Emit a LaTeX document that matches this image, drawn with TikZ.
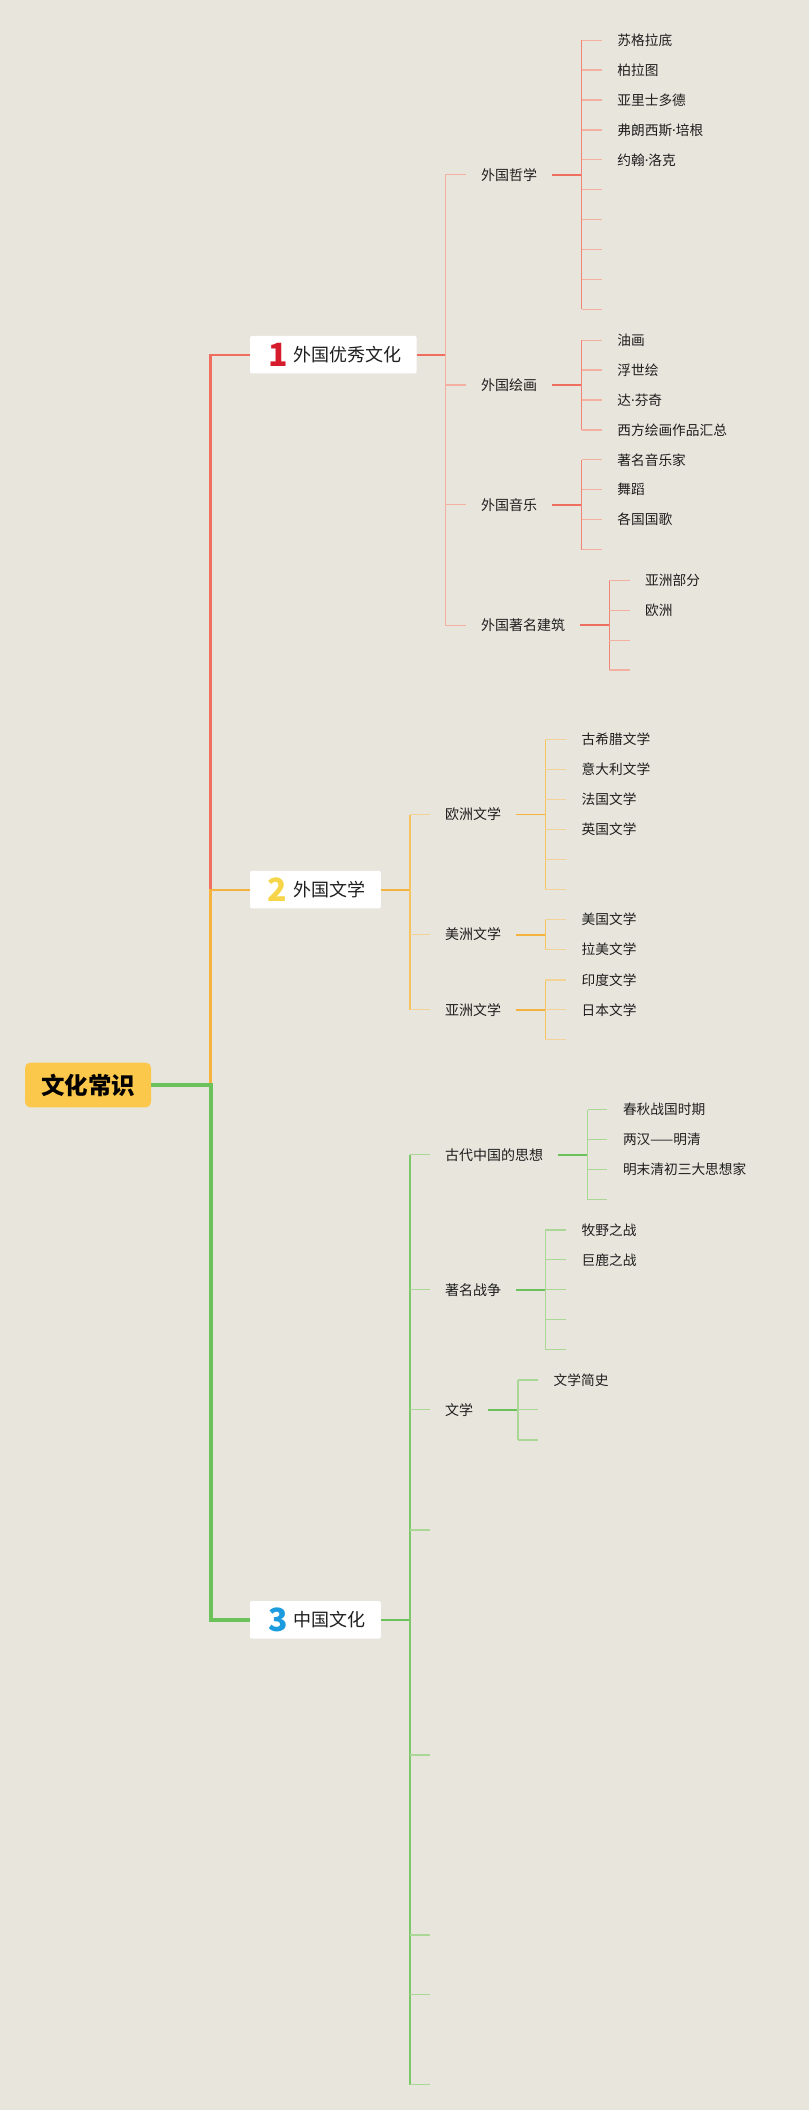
\documentclass[tikz,border=0pt]{standalone}
\usepackage{fontspec}
\setmainfont{Noto Sans CJK SC}
\newfontfamily\latinfont{Noto Sans}
\newcommand{\ndot}{{\latinfont ·}}
\usetikzlibrary{positioning,calc}
\usepackage{xcolor}

\definecolor{paper}{RGB}{232,229,221}
\definecolor{rootyellow}{RGB}{252,200,76}
\definecolor{textdark}{RGB}{30,30,30}
\definecolor{redmain}{RGB}{240,110,95}
\definecolor{redmid}{RGB}{241,132,118}
\definecolor{redlight}{RGB}{243,175,160}
\definecolor{orangemain}{RGB}{245,178,60}
\definecolor{orangemid}{RGB}{245,195,95}
\definecolor{orangelight}{RGB}{242,210,150}
\definecolor{greenmain}{RGB}{108,194,90}
\definecolor{greenmid}{RGB}{125,198,105}
\definecolor{greenlight}{RGB}{170,214,150}
\definecolor{numred}{RGB}{212,28,45}
\definecolor{numyellow}{RGB}{246,214,72}
\definecolor{numblue}{RGB}{28,156,222}

\tikzset{
  rootbox/.style={fill=rootyellow, rounded corners=5pt, minimum width=126pt,
    minimum height=44.6pt, inner sep=0pt, text=black,
    font=\fontsize{23.5}{24}\selectfont\bfseries},
  topicbox/.style={fill=white, rounded corners=1.5pt, minimum height=37.5pt, inner sep=0pt},
  topicnum/.style={inner sep=0pt, font=\fontsize{32}{32}\selectfont\bfseries},
  topictext/.style={anchor=west, inner sep=0pt, text=textdark, font=\fontsize{18}{18}\selectfont},
  subtopic/.style={anchor=west, inner xsep=15pt, inner ysep=0pt, text=textdark,
    font=\fontsize{14}{14}\selectfont},
  leaf/.style={anchor=west, inner xsep=15.5pt, inner ysep=0pt, text=textdark,
    font=\fontsize{13.7}{14}\selectfont}
}

\begin{document}
\begin{tikzpicture}[
x=1pt, y=-1pt,
redtrunk/.style={draw=redmain, line width=2.2pt},
redbranch/.style={draw=redmain, line width=1.7pt},
redstem/.style={draw=redmid, line width=1.6pt},
redtwig/.style={draw=redlight, line width=1.3pt},
orangetrunk/.style={draw=orangemain, line width=2.2pt},
orangebranch/.style={draw=orangemain, line width=1.8pt},
orangestem/.style={draw=orangemid, line width=1.6pt},
orangetwig/.style={draw=orangelight, line width=1.3pt},
greentrunk/.style={draw=greenmain, line width=4pt},
greenbranch/.style={draw=greenmain, line width=1.8pt},
greenstem/.style={draw=greenmid, line width=1.6pt},
greentwig/.style={draw=greenlight, line width=1.3pt}
]

\fill[paper] (0,0) rectangle (809,2110);
\useasboundingbox (0,0) rectangle (809,2110);

% root and main topics
\node[rootbox] (root) at (88,1085) {文化常识};
\coordinate (trunk) at (210.5,1085);

\node[topicbox, minimum width=166.7pt] (top1) at (333.35,354.7) {};
\node[topicnum, text=numred] (num1) at (278.5,354.7) {1};
\node[topictext] (lab1) at (293,354.7) {外国优秀文化};

\node[topicbox, minimum width=130.8pt] (top2) at (315.4,889.7) {};
\node[topicnum, text=numyellow] (num2) at (277.7,889.7) {2};
\node[topictext] (lab2) at (293.6,889.7) {外国文学};

\node[topicbox, minimum width=130.8pt] (top3) at (315.4,1619.9) {};
\node[topicnum, text=numblue] (num3) at (278,1619.9) {3};
\node[topictext] (lab3) at (293.6,1619.9) {中国文化};

% trunk
\draw[redtrunk] (trunk) |- (top1);
\draw[orangetrunk] (trunk) |- (top2);
\draw[greentrunk] (root) -- (trunk) |- (top3);

% 1 外国优秀文化
\coordinate (j1) at (445.3,354.7);
\node[subtopic] (phil) at (466,174.8) {外国哲学};
\node[subtopic] (paint) at (466,385) {外国绘画};
\node[subtopic] (music) at (466,504.7) {外国音乐};
\node[subtopic] (arch) at (466,625.2) {外国著名建筑};
\draw[redbranch] (top1) -- (j1);
\draw[redtwig] (j1 |- phil) -- (j1 |- arch);
\foreach \s in {phil,paint,music,arch} \draw[redtwig] (j1 |- \s) -- (\s);

% 外国哲学
\coordinate (j11) at (581.5,174.8);
\node[leaf] (phil1) at (601.7,40.2) {苏格拉底};
\node[leaf] (phil2) at (601.7,70.1) {柏拉图};
\node[leaf] (phil3) at (601.7,100) {亚里士多德};
\node[leaf] (phil4) at (601.7,129.9) {弗朗西斯\ndot 培根};
\node[leaf] (phil5) at (601.7,159.8) {约翰\ndot 洛克};
\foreach \i/\y in {6/189.7,7/219.6,8/249.6,9/279.5,10/309.4}
  \coordinate (phil\i) at (601.7,\y);
\draw[redbranch] (phil) -- (j11);
\draw[redstem] (j11 |- phil1) -- (j11 |- phil10);
\foreach \i in {1,...,10} \draw[redtwig] (j11 |- phil\i) -- (phil\i);

% 外国绘画
\coordinate (j12) at (581.5,385);
\node[leaf] (paint1) at (601.7,340.2) {油画};
\node[leaf] (paint2) at (601.7,370) {浮世绘};
\node[leaf] (paint3) at (601.7,400) {达\ndot 芬奇};
\node[leaf] (paint4) at (601.7,429.9) {西方绘画作品汇总};
\draw[redbranch] (paint) -- (j12);
\draw[redstem] (j12 |- paint1) -- (j12 |- paint4);
\foreach \i in {1,...,4} \draw[redtwig] (j12 |- paint\i) -- (paint\i);

% 外国音乐
\coordinate (j13) at (581.5,504.7);
\node[leaf] (music1) at (601.7,459.8) {著名音乐家};
\node[leaf] (music2) at (601.7,489.7) {舞蹈};
\node[leaf] (music3) at (601.7,519.6) {各国国歌};
\coordinate (music4) at (601.7,549.6);
\draw[redbranch] (music) -- (j13);
\draw[redstem] (j13 |- music1) -- (j13 |- music4);
\foreach \i in {1,...,4} \draw[redtwig] (j13 |- music\i) -- (music\i);

% 外国著名建筑
\coordinate (j14) at (609.4,625.2);
\node[leaf] (arch1) at (629.5,580.4) {亚洲部分};
\node[leaf] (arch2) at (629.5,610.3) {欧洲};
\coordinate (arch3) at (629.5,640.2);
\coordinate (arch4) at (629.5,670.1);
\draw[redbranch] (arch) -- (j14);
\draw[redstem] (j14 |- arch1) -- (j14 |- arch4);
\foreach \i in {1,...,4} \draw[redtwig] (j14 |- arch\i) -- (arch\i);

% 2 外国文学
\coordinate (j2) at (410.2,889.7);
\node[subtopic] (eur) at (429.8,814.5) {欧洲文学};
\node[subtopic] (ame) at (429.8,934.6) {美洲文学};
\node[subtopic] (asia) at (429.8,1009.8) {亚洲文学};
\draw[orangebranch] (top2) -- (j2);
\draw[orangestem] (j2 |- eur) -- (j2 |- asia);
\foreach \s in {eur,ame,asia} \draw[orangetwig] (j2 |- \s) -- (\s);

% 欧洲文学
\coordinate (j21) at (545.4,814.5);
\node[leaf] (eur1) at (566,739.7) {古希腊文学};
\node[leaf] (eur2) at (566,769.6) {意大利文学};
\node[leaf] (eur3) at (566,799.6) {法国文学};
\node[leaf] (eur4) at (566,829.5) {英国文学};
\coordinate (eur5) at (566,859.4);
\coordinate (eur6) at (566,889.3);
\draw[orangebranch] (eur) -- (j21);
\draw[orangestem] (j21 |- eur1) -- (j21 |- eur6);
\foreach \i in {1,...,6} \draw[orangetwig] (j21 |- eur\i) -- (eur\i);

% 美洲文学
\coordinate (j22) at (545.4,934.6);
\node[leaf] (ame1) at (566,919.6) {美国文学};
\node[leaf] (ame2) at (566,949.6) {拉美文学};
\draw[orangebranch] (ame) -- (j22);
\draw[orangestem] (j22 |- ame1) -- (j22 |- ame2);
\foreach \i in {1,2} \draw[orangetwig] (j22 |- ame\i) -- (ame\i);

% 亚洲文学
\coordinate (j23) at (545.4,1009.8);
\node[leaf] (asia1) at (566,979.9) {印度文学};
\node[leaf] (asia2) at (566,1009.8) {日本文学};
\coordinate (asia3) at (566,1039.7);
\draw[orangebranch] (asia) -- (j23);
\draw[orangestem] (j23 |- asia1) -- (j23 |- asia3);
\foreach \i in {1,2,3} \draw[orangetwig] (j23 |- asia\i) -- (asia\i);

% 3 中国文化
\coordinate (j3) at (410.2,1619.9);
\node[subtopic] (anc) at (429.8,1154.7) {古代中国的思想};
\node[subtopic] (war) at (429.8,1289.7) {著名战争};
\node[subtopic] (lit) at (429.8,1409.7) {文学};
\foreach \i/\y in {4/1530,5/1755,6/1934.9,7/1994.6,8/2084.8}
  \coordinate (chn\i) at (429.8,\y);
\draw[greenbranch] (top3) -- (j3);
\draw[greenstem] (j3 |- anc) -- (j3 |- chn8);
\foreach \s in {anc,war,lit,chn4,chn5,chn6,chn7,chn8} \draw[greentwig] (j3 |- \s) -- (\s);

% 古代中国的思想
\coordinate (j31) at (587.7,1154.7);
\node[leaf] (anc1) at (607.3,1109.8) {春秋战国时期};
\node[leaf] (anc2) at (607.3,1139.7) {两汉——明清};
\node[leaf] (anc3) at (607.3,1169.6) {明末清初三大思想家};
\coordinate (anc4) at (607.3,1199.6);
\draw[greenbranch] (anc) -- (j31);
\draw[greentwig] (j31 |- anc1) -- (j31 |- anc4);
\foreach \i in {1,...,4} \draw[greentwig] (j31 |- anc\i) -- (anc\i);

% 著名战争
\coordinate (j32) at (545.4,1289.7);
\node[leaf] (war1) at (566,1229.9) {牧野之战};
\node[leaf] (war2) at (566,1259.8) {巨鹿之战};
\foreach \i/\y in {3/1289.7,4/1319.6,5/1349.6}
  \coordinate (war\i) at (566,\y);
\draw[greenbranch] (war) -- (j32);
\draw[greentwig] (j32 |- war1) -- (j32 |- war5);
\foreach \i in {1,...,5} \draw[greentwig] (j32 |- war\i) -- (war\i);

% 文学
\coordinate (j33) at (518,1409.7);
\node[leaf] (lit1) at (538,1379.9) {文学简史};
\coordinate (lit2) at (538,1409.7);
\coordinate (lit3) at (538,1439.9);
\draw[greenbranch] (lit) -- (j33);
\draw[greentwig] (j33 |- lit1) -- (j33 |- lit3);
\foreach \i in {1,2,3} \draw[greentwig] (j33 |- lit\i) -- (lit\i);

\end{tikzpicture}
\end{document}
